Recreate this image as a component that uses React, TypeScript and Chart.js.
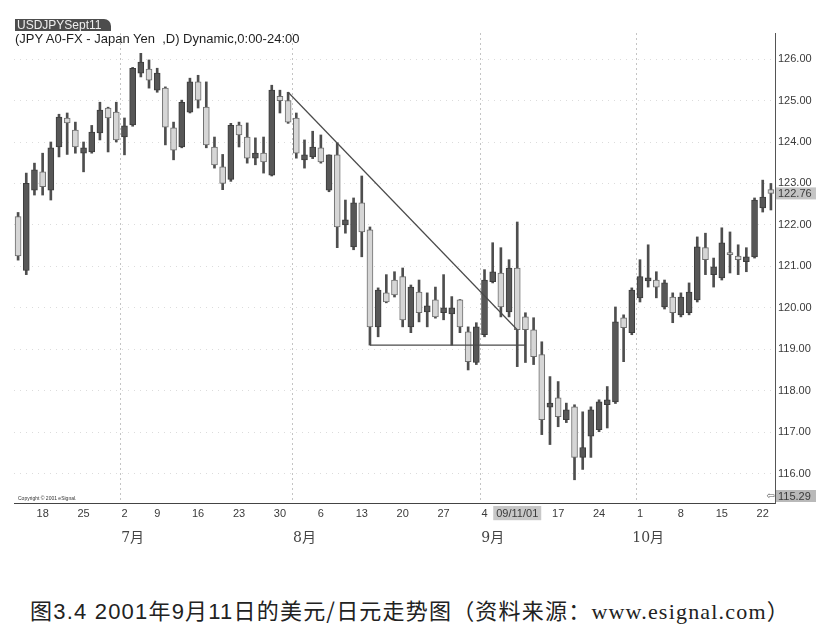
import React, { useEffect, useRef } from "react";
import { Chart, registerables } from "chart.js";

Chart.register(...registerables);

// ---- data (USD/JPY daily, 2001) ----
const dates = [
  "2001-06-13","2001-06-14","2001-06-15","2001-06-18","2001-06-19","2001-06-20","2001-06-21","2001-06-22","2001-06-25","2001-06-26",
  "2001-06-27","2001-06-28","2001-06-29","2001-07-02","2001-07-03","2001-07-05","2001-07-06","2001-07-09","2001-07-10","2001-07-11",
  "2001-07-12","2001-07-13","2001-07-16","2001-07-17","2001-07-18","2001-07-19","2001-07-20","2001-07-23","2001-07-24","2001-07-25",
  "2001-07-26","2001-07-27","2001-07-30","2001-07-31","2001-08-01","2001-08-02","2001-08-03","2001-08-06","2001-08-07","2001-08-08",
  "2001-08-09","2001-08-10","2001-08-13","2001-08-14","2001-08-15","2001-08-16","2001-08-17","2001-08-20","2001-08-21","2001-08-22",
  "2001-08-23","2001-08-24","2001-08-27","2001-08-28","2001-08-29","2001-08-30","2001-08-31","2001-09-04","2001-09-05","2001-09-06",
  "2001-09-07","2001-09-10","2001-09-11","2001-09-12","2001-09-13","2001-09-14","2001-09-17","2001-09-18","2001-09-19","2001-09-20",
  "2001-09-21","2001-09-24","2001-09-25","2001-09-26","2001-09-27","2001-09-28","2001-10-01","2001-10-02","2001-10-03","2001-10-04",
  "2001-10-05","2001-10-08","2001-10-09","2001-10-10","2001-10-11","2001-10-12","2001-10-15","2001-10-16","2001-10-17","2001-10-18",
  "2001-10-19","2001-10-22","2001-10-23",
];

const opens = [
  122.2,120.9,122.84,123.28,122.84,123.88,124.58,124.29,123.73,123.76,
  124.22,124.82,124.72,124.12,124.41,125.66,125.76,125.25,125.3,124.34,
  123.88,124.72,125.45,124.84,123.88,123.4,123.1,124.41,124.12,123.61,
  123.73,123.2,125.1,125.0,124.58,123.57,123.64,123.86,122.84,123.69,
  122.0,121.47,122.53,121.88,119.54,120.36,120.67,120.75,119.54,120.38,
  119.9,120.19,119.88,119.85,120.19,119.42,118.68,119.35,120.63,120.84,
  119.9,120.96,119.78,119.47,118.87,117.6,117.83,117.3,117.61,116.39,
  116.9,117.06,117.66,117.73,119.76,119.4,120.24,120.65,120.67,120.02,
  120.26,119.83,119.88,120.19,121.45,120.8,120.72,121.33,121.25,121.11,
  121.23,122.41,122.85,
];

const highs = [
  122.3,123.25,123.49,123.73,124.0,124.67,124.7,124.48,124.0,124.4,
  124.96,124.84,124.96,124.58,125.8,126.14,125.98,125.78,125.33,124.48,
  125.01,125.54,125.61,125.45,124.12,123.7,124.45,124.48,124.46,124.1,
  124.12,125.37,125.25,125.2,124.7,124.05,124.26,124.17,123.69,123.98,
  122.6,122.65,123.18,121.95,120.48,120.8,120.87,120.96,120.55,120.67,
  120.36,120.5,120.8,120.27,120.2,119.54,119.64,120.92,121.57,121.45,
  121.16,122.07,119.88,119.76,119.18,118.34,118.22,117.7,117.66,117.49,
  117.61,117.78,118.1,120.02,119.83,120.48,121.16,121.52,120.87,120.67,
  120.36,120.36,120.6,121.71,121.8,121.2,121.93,121.83,121.52,121.45,
  122.65,123.08,123.0,
];

const lows = [
  121.15,120.8,122.72,122.72,122.6,123.64,123.7,123.73,123.28,123.73,
  124.05,123.76,124.0,123.69,124.38,125.57,125.3,125.2,123.93,123.57,
  123.86,124.7,124.82,123.86,123.37,122.85,123.05,123.88,123.49,123.45,
  123.25,123.18,124.7,124.45,123.61,123.37,123.6,123.49,122.8,121.45,
  121.8,121.4,121.23,119.1,119.3,120.12,120.26,119.54,119.4,119.66,
  119.54,119.75,119.71,119.1,119.4,118.5,118.63,119.3,120.6,119.78,
  119.78,118.58,118.68,118.63,116.94,116.7,117.13,117.23,115.85,116.1,
  116.39,117.01,117.1,117.69,118.7,119.35,120.14,120.5,120.24,119.97,
  119.64,119.78,119.83,120.14,120.8,120.5,120.67,120.84,120.8,120.87,
  121.2,122.31,122.36,
];

const closes = [
  121.25,123.0,123.33,122.92,123.86,124.6,124.46,123.88,123.86,124.24,
  124.77,124.58,124.05,124.39,125.78,125.93,125.49,125.66,124.36,123.8,
  124.96,125.45,125.01,123.93,123.45,123.0,124.4,124.17,123.61,123.73,
  123.52,125.25,125.0,124.48,123.73,123.69,123.88,123.52,123.69,121.95,
  122.12,122.53,121.83,119.54,120.43,120.14,120.31,119.71,120.5,119.88,
  120.05,119.78,120.0,120.0,119.54,118.7,119.54,120.67,120.87,120.02,
  120.96,119.47,119.47,118.82,117.3,117.7,117.37,117.54,116.39,116.63,
  117.54,117.73,117.78,119.66,119.52,120.43,120.75,120.72,120.5,120.6,
  119.88,120.26,120.38,121.47,121.16,120.99,121.57,121.28,121.16,121.23,
  122.6,122.67,122.76,
];

const trendLine = [
  { x: "2001-07-31", y: 125.2 },
  { x: "2001-09-10", y: 119.47 },
];
const supportLine = [
  { x: "2001-08-14", y: 119.1 },
  { x: "2001-09-11", y: 119.1 },
];

const dayTickDates = ["2001-06-18","2001-06-25","2001-07-02","2001-07-09","2001-07-16","2001-07-23","2001-07-30","2001-08-06","2001-08-13","2001-08-20","2001-08-27","2001-09-04","2001-09-10","2001-09-17","2001-09-24","2001-10-01","2001-10-08","2001-10-15","2001-10-22"];
const dayTickTexts = ["18","25","2","9","16","23","30","6","13","20","27","4","09/11/01","17","24","1","8","15","22"];
const cursorDate = "2001-09-10";

const monthTickDates = ["2001-07-03","2001-08-02","2001-09-05","2001-10-02"];
const monthTickTexts = ["7月","8月","9月","10月"];
const monthStartDates = ["2001-07-02","2001-08-01","2001-09-04","2001-10-01"];

const yTickValues = [116, 117, 118, 119, 120, 121, 122, 123, 124, 125, 126];
const axisMin = 115.29;
const axisMax = 126.63;
const lastPrice = closes[closes.length - 1];

const UP_FILL = "#575757";
const UP_BORDER = "#3c3c3c";
const DOWN_FILL = "#d6d6d6";
const DOWN_BORDER = "#6e6e6e";
const WICK = "#4e4e4e";

const overlayPlugin = {
  id: "overlay",
  beforeDatasetsDraw(chart: any) {
    const { ctx, chartArea, scales } = chart;
    const x = scales.x;
    ctx.save();
    ctx.strokeStyle = "#c4c4c4";
    ctx.lineWidth = 1;
    ctx.setLineDash([2, 3]);
    monthStartDates.forEach((d) => {
      const i = dates.indexOf(d);
      const px = Math.round((x.getPixelForValue(i - 1) + x.getPixelForValue(i)) / 2) + 0.5;
      ctx.beginPath();
      ctx.moveTo(px, chartArea.top);
      ctx.lineTo(px, chartArea.bottom);
      ctx.stroke();
    });
    ctx.restore();
  },
  afterDraw(chart: any) {
    const { ctx, chartArea, scales } = chart;
    const y = scales.y;
    const boxLeft = chartArea.right + 1;
    ctx.save();
    ctx.font = '11px "Liberation Sans", Arial, sans-serif';
    ctx.textBaseline = "middle";
    ctx.textAlign = "left";
    // last price box
    const py = y.getPixelForValue(lastPrice);
    ctx.fillStyle = "#c4c4c4";
    ctx.fillRect(boxLeft, py - 6, 40, 12);
    ctx.fillStyle = "#3a3a3a";
    ctx.fillText(lastPrice.toFixed(2), boxLeft + 2, py + 0.5);
    // axis min box
    const my = Math.min(y.getPixelForValue(axisMin), chartArea.bottom - 7);
    ctx.fillStyle = "#b9b9b9";
    ctx.fillRect(boxLeft, my - 6, 40, 12);
    ctx.fillStyle = "#3a3a3a";
    ctx.fillText(axisMin.toFixed(2), boxLeft + 2, my + 0.5);
    ctx.font = '10px "DejaVu Sans", sans-serif';
    ctx.textAlign = "right";
    ctx.fillStyle = "#555";
    ctx.fillText("⇦", boxLeft - 1, my + 0.5);
    // copyright
    ctx.textAlign = "left";
    ctx.font = '5px "Liberation Sans", Arial, sans-serif';
    ctx.fillStyle = "#333";
    ctx.fillText("Copyright © 2001 eSignal.", chartArea.left + 4, chartArea.bottom - 4);
    ctx.restore();
  },
};

const latin = { fontFamily: '"Liberation Sans", Arial, sans-serif' };

export default function App() {
  const ref = useRef<HTMLCanvasElement>(null);

  useEffect(() => {
    if (!ref.current) return;
    const isUp = opens.map((o, i) => closes[i] >= o);
    const chart = new Chart(ref.current, {
      type: "bar",
      data: {
        labels: dates,
        datasets: [
          {
            type: "line",
            data: trendLine as any,
            borderColor: "#4a4a4a",
            borderWidth: 1.2,
            pointRadius: 0,
            order: 0,
          } as any,
          {
            type: "line",
            data: supportLine as any,
            borderColor: "#4a4a4a",
            borderWidth: 1.2,
            pointRadius: 0,
            order: 0,
          } as any,
          {
            type: "bar",
            data: opens.map((o, i) => [o, closes[i]]) as any,
            backgroundColor: isUp.map((u) => (u ? UP_FILL : DOWN_FILL)),
            borderColor: isUp.map((u) => (u ? UP_BORDER : DOWN_BORDER)),
            borderWidth: 1,
            borderSkipped: false,
            barThickness: 6,
            grouped: false,
            order: 1,
          } as any,
          {
            type: "bar",
            data: lows.map((l, i) => [l, highs[i]]) as any,
            backgroundColor: WICK,
            borderWidth: 0,
            barThickness: 2,
            grouped: false,
            order: 2,
          } as any,
        ],
      },
      options: {
        responsive: false,
        devicePixelRatio: 1,
        animation: false,
        layout: { padding: { left: 14, top: 33, right: 0, bottom: 0 } },
        plugins: { legend: { display: false }, tooltip: { enabled: false } },
        scales: {
          x: {
            type: "category",
            position: "bottom",
            offset: true,
            weight: 0,
            grid: { display: false, drawTicks: false },
            border: { display: true, color: "#444", width: 1 },
            afterFit: (s: any) => { s.height = 22; },
            ticks: {
              autoSkip: false,
              maxRotation: 0,
              padding: 4,
              color: "#3a3a3a",
              font: { size: 11, family: '"Liberation Sans", Arial, sans-serif' },
              callback: function (this: any, val: any) {
                const d = this.getLabelForValue(val);
                const k = dayTickDates.indexOf(d);
                return k >= 0 ? dayTickTexts[k] : "";
              },
              showLabelBackdrop: (c: any) => dates[c.index] === cursorDate,
              backdropColor: "#c8c8c8",
              backdropPadding: { top: 1, bottom: 0, left: 3, right: 3 },
            } as any,
          },
          xm: {
            type: "category",
            position: "bottom",
            offset: true,
            weight: 1,
            grid: { display: false, drawTicks: false },
            border: { display: false },
            afterFit: (s: any) => { s.height = 20; },
            ticks: {
              autoSkip: false,
              maxRotation: 0,
              padding: 5,
              color: "#444",
              font: { size: 14, family: '"DejaVu Serif", "Noto Sans CJK SC", serif' },
              callback: function (this: any, val: any) {
                const d = this.getLabelForValue(val);
                const k = monthTickDates.indexOf(d);
                return k >= 0 ? monthTickTexts[k] : "";
              },
            },
          } as any,
          y: {
            type: "linear",
            position: "right",
            min: axisMin,
            max: axisMax,
            afterBuildTicks: (s: any) => { s.ticks = yTickValues.map((v) => ({ value: v })); },
            afterFit: (s: any) => { s.width = 63; },
            grid: { color: "#dcdcdc", drawTicks: false },
            border: { display: true, color: "#555", width: 1, dash: [1, 5] },
            ticks: {
              padding: 3,
              color: "#3a3a3a",
              font: { size: 11, family: '"Liberation Sans", Arial, sans-serif' },
              callback: (v: any) => Number(v).toFixed(2),
            },
          },
        },
      },
      plugins: [overlayPlugin],
    } as any);
    return () => chart.destroy();
  }, []);

  return (
    <div style={{ position: "fixed", left: 0, top: 0, width: 838, height: 641, background: "#fff", overflow: "hidden" }}>
      <canvas ref={ref} width={838} height={545} style={{ position: "absolute", left: 0, top: 0, width: 838, height: 545 }} />
      <div
        style={{
          position: "absolute", left: 15, top: 19, width: 96, height: 12,
          background: "#4d4d4d", borderTopRightRadius: 7, color: "#eee",
          font: '12px "Liberation Sans", Arial, sans-serif', lineHeight: "12px", paddingLeft: 2, boxSizing: "border-box",
          overflow: "hidden", whiteSpace: "nowrap",
        }}
      >
        USDJPYSept11
      </div>
      <div
        style={{
          position: "absolute", left: 15, top: 32, color: "#1e1e1e", whiteSpace: "pre",
          font: '13px "Liberation Sans", Arial, sans-serif', lineHeight: "14px",
        }}
      >
        {"(JPY A0-FX - Japan Yen  ,D) Dynamic,0:00-24:00"}
      </div>
      <div
        style={{
          position: "absolute", left: 30, top: 595, color: "#222", whiteSpace: "nowrap",
          fontFamily: '"Noto Sans CJK SC", sans-serif', fontSize: 22, lineHeight: "28px", letterSpacing: "1.2px",
        }}
      >
        图<span style={latin}>3.4 2001</span>年<span style={latin}>9</span>月<span style={latin}>11</span>日的美元/日元走势图（资料来源：<span style={{ fontFamily: '"Liberation Serif", serif' }}>www.esignal.com</span>）
      </div>
    </div>
  );
}
